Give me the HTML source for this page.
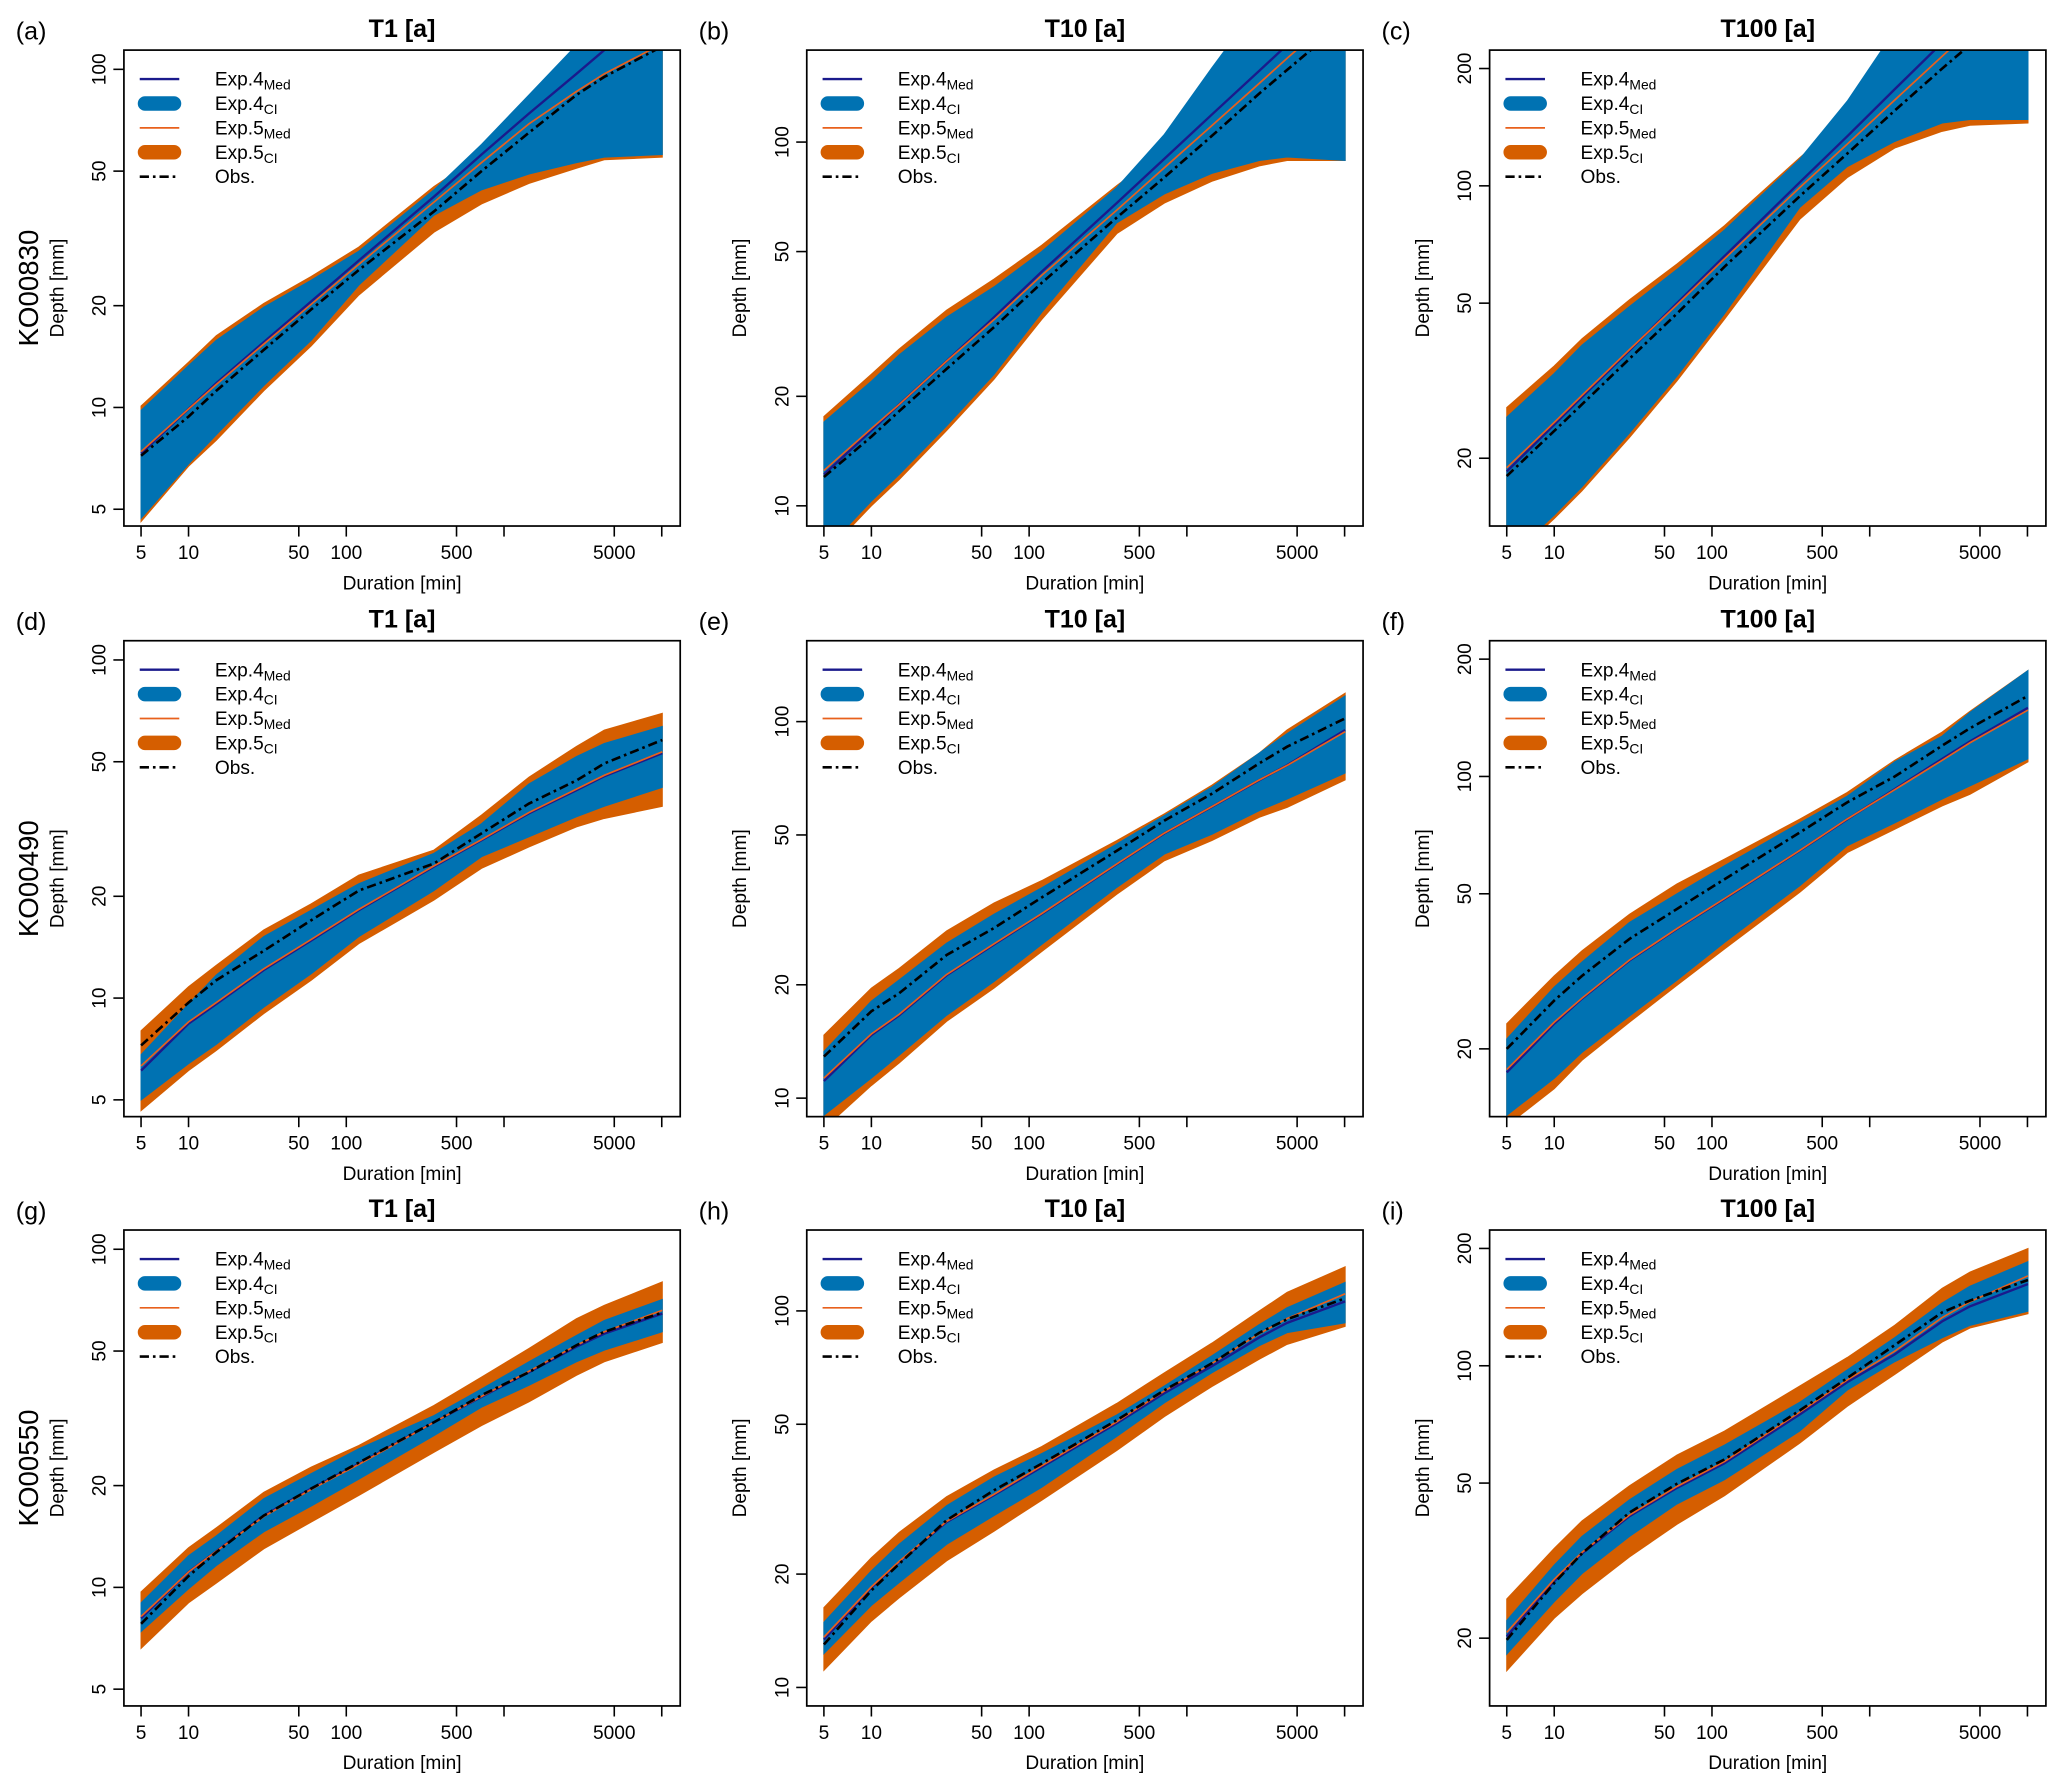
<!DOCTYPE html>
<html><head><meta charset="utf-8"><title>IDF curves</title>
<style>
html,body{margin:0;padding:0;background:#fff;}
svg{display:block;font-family:"Liberation Sans",Arial,sans-serif;}
</style></head>
<body>
<svg id="fig" width="2067" height="1789" viewBox="0 0 1568 1357" preserveAspectRatio="none" xmlns="http://www.w3.org/2000/svg"></svg>
<script>
// durations [min]
const durations=[5,10,15,30,60,120,360,720,1440,2880,4320,10080];
const xTicks=[5,10,50,100,500,1000,5000,10000];
const xTickLabels=["5","10","50","100","500","","5000",""];
const titles=["T1 [a]","T10 [a]","T100 [a]"];
const stations=["KO00830","KO00490","KO00550"];
const panelLetters=["(a)","(b)","(c)","(d)","(e)","(f)","(g)","(h)","(i)"];
const yTicksCol=[[5,10,20,50,100],[10,20,50,100],[20,50,100,200]];

// panel a
const a_med4=[7.3,9.9,11.8,15.6,20.6,27.2,42,56,74,97,114,140];
const a_med5=[7.4,9.9,11.7,15.4,20.2,26.5,40.5,53,69,86,97,119];
const a_obs=[7.2,9.4,11.2,14.8,19.5,25.5,38,50,65,84,95,117];
const a_ci4hi=[9.8,13.3,15.8,19.8,23.8,29,44,60,84,118,145,200];
const a_ci4lo=[4.7,6.8,8.3,11.6,15.8,23,37,44,49,53,55,56];
const a_ci5hi=[10.1,13.6,16.3,20.3,24.4,29.8,45,56,68,85,97,118];
const a_ci5lo=[4.6,6.7,8,11.2,15.2,21.5,33,40,46,51,54,55];
// panel b
const b_med4=[12.2,16.1,19,25,33,44,68,90,119,157,185,260];
const b_med5=[12.5,16.3,19,25,32.5,43,65,85,111,145,170,235];
const b_obs=[12,15.5,18.2,23.8,31,41,62,80,104,136,158,215];
const b_ci4hi=[17,22,26,33,40,50,75,105,160,240,300,400];
const b_ci4lo=[7.5,10.3,12.2,16.6,23,34,60,72,82,89,91,89];
const b_ci5hi=[17.6,23,27,34.5,42,52,76,95,120,150,170,230];
const b_ci5lo=[7.3,10,11.8,16.1,22.3,32.5,56,68,78,86,89,89];
// panel c
const c_med4=[18.5,24.4,28.7,37.8,50,66,102,134,177,233,276,385];
const c_med5=[18.9,24.7,29,38,49.5,65,99,128,166,215,250,340];
const c_obs=[18,23.5,27.5,36,47,62,94,121,156,200,230,310];
const c_ci4hi=[25.5,33,39,49,61,77,117,165,250,360,450,600];
const c_ci4lo=[11,14.3,16.9,23.2,32.5,47,88,112,130,145,148,148];
const c_ci5hi=[27,34.5,40.5,51,63,79,118,150,190,240,270,350];
const c_ci5lo=[10.8,14,16.5,22.6,31.6,45.5,82,105,125,138,143,145];
// panel d
const d_med4=[6.1,8.4,9.6,12.1,14.8,18.2,24.5,29.3,35.2,41.2,45.3,53];
const d_med5=[6.3,8.5,9.7,12.2,14.9,18.3,24.6,29.4,35.4,41.5,45.6,53.5];
const d_obs=[7.24,9.7,11.3,13.8,17,20.8,25,30.7,37.6,44,49.4,58];
const d_ci4hi=[6.8,9.6,11.7,15.2,18.2,21.8,26.8,32.8,43,51.8,56.6,63.6];
const d_ci4lo=[5.0,6.4,7.3,9.4,11.8,15.2,20.8,26.2,30,34.4,36.9,42];
const d_ci5hi=[8.0,10.8,12.5,15.9,19,23.1,27.4,34.8,45,55.5,62,69.5];
const d_ci5lo=[4.65,6.1,7,9,11.3,14.5,19.5,24.2,28,32.1,34,36.9];
// panel e
const e_med4=[11.1,14.7,16.6,21.2,25.6,30.8,41.8,50.5,59.4,69.9,76.6,95];
const e_med5=[11.3,14.8,16.7,21.3,25.7,30.9,41.9,50.6,59.5,70,76.5,94];
const e_obs=[12.9,17,19,24,28.3,34.1,45.4,54.6,64.3,77.5,85.8,102];
const e_ci4hi=[13.3,18.1,20.6,25.8,30.8,36.2,47.3,56.3,67,82.5,93,117];
const e_ci4lo=[9,11.3,13,16.6,20.4,25.6,36.3,44.5,50.2,58,62.3,73];
const e_ci5hi=[14.7,19.6,22.1,27.8,33,37.8,48.3,56.9,67.8,82.5,95,119];
const e_ci5lo=[8.3,10.8,12.4,16,19.6,24.5,34.8,42.7,48.3,55.7,59.2,70];
// panel f
const f_med4=[17.4,23.2,26.9,33.7,40.6,48.5,64.5,77.7,92.8,111,123,150];
const f_med5=[17.7,23.4,27,33.8,40.7,48.6,64.6,77.8,92.5,110,122,148];
const f_obs=[20,26.6,30.8,38.3,45.7,54.5,71.8,85.8,100,120,133,161];
const f_ci4hi=[21.2,28.8,33.4,42.2,50,59,76,89,109,127,146,187];
const f_ci4lo=[13.5,16.8,19.6,24.3,30,37.5,52.4,66.4,76,87.5,94.6,111];
const f_ci5hi=[23.2,30.8,35.7,44.3,53,61.4,77.7,91,110,130,147,187];
const f_ci5lo=[12.7,15.8,18.7,23.4,29.1,36.1,50.4,63.8,73.2,84,90,109];
// panel g
const g_med4=[8.1,11.1,12.8,16.3,19.6,23.2,30.8,36.6,43.3,51.5,56.3,64.5];
const g_med5=[8.2,11.1,12.8,16.2,19.5,23.1,30.8,36.7,43.6,52,57,66];
const g_obs=[7.8,10.8,12.7,16.3,19.6,23.4,30.8,37,43.3,52,57,65];
const g_ci4hi=[9.0,12.4,14.2,18.3,21.7,25.7,32.2,38.6,46.5,55.6,61.6,71];
const g_ci4lo=[7.4,9.9,11.6,14.6,17.4,20.9,28.1,34.1,39.6,46.5,50.3,57];
const g_ci5hi=[9.7,13.1,15,19.1,22.7,26.3,34.5,41.9,50.9,62.3,68.3,80];
const g_ci5lo=[6.6,9.0,10.3,13,15.6,18.7,25.1,30.1,35.4,42.4,46.5,53];
// panel h
const h_med4=[13.4,18.4,21.5,27.5,32.4,38.5,50.3,60.5,71.3,85,93,106];
const h_med5=[13.6,18.5,21.6,27.6,32.6,38.8,50.8,61.3,72.5,87,95.5,111];
const h_obs=[13,18.1,21.3,27.8,33.4,39.3,51.3,61.6,72.6,87.5,95,108];
const h_ci4hi=[14.9,20.4,24,30.4,36.2,41.8,52.9,63.2,76,92,102,119];
const h_ci4lo=[12.3,16.5,19,24,28.6,34,46.4,57,68.5,80.9,87.6,93];
const h_ci5hi=[16.3,22.1,25.8,32.1,37.8,43.6,56.8,68.5,82.1,100,112,131];
const h_ci5lo=[11.1,15,17.3,21.7,26,31.4,42.6,52.4,63,74.4,81.5,91];
// panel i
const i_med4=[20.2,28,33,41.1,48.6,56.2,75,90.8,107,130,142,162];
const i_med5=[20.7,28.3,33.2,41.4,49,56.8,76,92,109,133,146,170];
const i_obs=[19.8,27.7,33,42,49.8,57.5,76.8,93,113,137,147,166];
const i_ci4hi=[22.2,30.8,36.5,45.3,54.2,62.6,80.6,97.6,118,145,160,185];
const i_ci4lo=[18.2,24.8,29.3,36.5,44.2,51,68,86.6,102.4,118,127,138];
const i_ci5hi=[25.2,34,40,49.2,59,68,88.7,105,127,158,174,200];
const i_ci5lo=[16.5,22.5,26,32.3,39.2,46.4,63.3,78.7,95,115,125,136];

const panels=[
 {med4:a_med4,med5:a_med5,obs:a_obs,ci4hi:a_ci4hi,ci4lo:a_ci4lo,ci5hi:a_ci5hi,ci5lo:a_ci5lo,ylim:[4.46,114]},
 {med4:b_med4,med5:b_med5,obs:b_obs,ci4hi:b_ci4hi,ci4lo:b_ci4lo,ci5hi:b_ci5hi,ci5lo:b_ci5lo,ylim:[8.8,179]},
 {med4:c_med4,med5:c_med5,obs:c_obs,ci4hi:c_ci4hi,ci4lo:c_ci4lo,ci5hi:c_ci5hi,ci5lo:c_ci5lo,ylim:[13.4,223]},
 {med4:d_med4,med5:d_med5,obs:d_obs,ci4hi:d_ci4hi,ci4lo:d_ci4lo,ci5hi:d_ci5hi,ci5lo:d_ci5lo,ylim:[4.46,114]},
 {med4:e_med4,med5:e_med5,obs:e_obs,ci4hi:e_ci4hi,ci4lo:e_ci4lo,ci5hi:e_ci5hi,ci5lo:e_ci5lo,ylim:[8.93,164]},
 {med4:f_med4,med5:f_med5,obs:f_obs,ci4hi:f_ci4hi,ci4lo:f_ci4lo,ci5hi:f_ci5hi,ci5lo:f_ci5lo,ylim:[13.4,223]},
 {med4:g_med4,med5:g_med5,obs:g_obs,ci4hi:g_ci4hi,ci4lo:g_ci4lo,ci5hi:g_ci5hi,ci5lo:g_ci5lo,ylim:[4.46,114]},
 {med4:h_med4,med5:h_med5,obs:h_obs,ci4hi:h_ci4hi,ci4lo:h_ci4lo,ci5hi:h_ci5hi,ci5lo:h_ci5lo,ylim:[8.93,164]},
 {med4:i_med4,med5:i_med5,obs:i_obs,ci4hi:i_ci4hi,ci4lo:i_ci4lo,ci5hi:i_ci5hi,ci5lo:i_ci5lo,ylim:[13.4,223]}
];

const NS="http://www.w3.org/2000/svg";
const svg=document.getElementById('fig');
const colX=[94,612,1130], rowY=[38,486,933], BW=422, BH=361;
const C4="#0072B2", C5="#D55E00", NAVY="#1a1a8c", ORMED="#E8601C";
function mk(tag,attrs,parent){const e=document.createElementNS(NS,tag);for(const k in attrs)e.setAttribute(k,attrs[k]);(parent||svg).appendChild(e);return e;}
function txt(s,attrs,parent){const e=mk('text',attrs,parent);e.textContent=s;return e;}

panels.forEach((p,idx)=>{
  const r=Math.floor(idx/3), c=idx%3, x0=colX[c], y0=rowY[r];
  const g=mk('g',{});
  
  
  const xs=d=>x0+13+(Math.log10(d)-Math.log10(5))/(4-Math.log10(5))*395;
  const lo=Math.log10(p.ylim[0]), hi=Math.log10(p.ylim[1]);
  const ys=v=>y0+BH-(Math.log10(v)-lo)/(hi-lo)*BH;
  const cid='clip'+idx;
  const cp=mk('clipPath',{id:cid},g); mk('rect',{x:x0,y:y0,width:BW,height:BH},cp);
  const plot=mk('g',{'clip-path':'url(#'+cid+')'},g);
  
  
  function band(hiA,loA,col,name){
    let pts=durations.map((d,i)=>xs(d).toFixed(1)+','+ys(hiA[i]).toFixed(1));
    for(let i=durations.length-1;i>=0;i--)pts.push(xs(durations[i]).toFixed(1)+','+ys(loA[i]).toFixed(1));
    const e=mk('polygon',{points:pts.join(' '),fill:col,stroke:col,'stroke-width':0.8},plot);
    
    
  }
  function line(arr,col,w,dash,name){
    const pts=durations.map((d,i)=>xs(d).toFixed(1)+','+ys(arr[i]).toFixed(1)).join(' ');
    const a={points:pts,fill:'none',stroke:col,'stroke-width':w};
    if(dash)a['stroke-dasharray']=dash;
    const e=mk('polyline',a,plot);
    
    
  }
  band(p.ci5hi,p.ci5lo,C5,'exp5-ci-band');
  band(p.ci4hi,p.ci4lo,C4,'exp4-ci-band');
  line(p.med4,NAVY,1.8,null,'exp4-median-line');
  line(p.med5,ORMED,1.3,null,'exp5-median-line');
  line(p.obs,'#000',2,'7,3,2,3','observed-line');
  const box=mk('rect',{x:x0,y:y0,width:BW,height:BH,fill:'none',stroke:'#000','stroke-width':1.3},g);
  
  
  xTicks.forEach((t,i)=>{
    const X=xs(t);
    mk('line',{x1:X,y1:y0+BH,x2:X,y2:y0+BH+8,stroke:'#000','stroke-width':1.2},g);
    if(xTickLabels[i]){const e=txt(xTickLabels[i],{x:X,y:y0+BH+25,'font-size':14.5,'text-anchor':'middle'},g);
      
      }
  });
  const xt=txt('Duration [min]',{x:x0+BW/2,y:y0+BH+48,'font-size':14.5,'text-anchor':'middle'},g);
  
  
  yTicksCol[c].forEach(t=>{
    const Y=ys(t); if(Y<y0-1||Y>y0+BH+1)return;
    mk('line',{x1:x0,y1:Y,x2:x0-8,y2:Y,stroke:'#000','stroke-width':1.2},g);
    const e=txt(String(t),{x:x0-14,y:Y,'font-size':14.5,'text-anchor':'middle',transform:'rotate(-90 '+(x0-14)+' '+Y+')'},g);
    
    
  });
  const yc=y0+BH/2;
  const yt=txt('Depth [mm]',{x:x0-46,y:yc,'font-size':14.5,'text-anchor':'middle',transform:'rotate(-90 '+(x0-46)+' '+yc+')'},g);
  
  
  const tt=txt(titles[c],{x:x0+BW/2,y:y0-10,'font-size':19,'font-weight':'bold','text-anchor':'middle'},g);
  
  
  const pl=txt(panelLetters[idx],{x:x0-82,y:y0-8,'font-size':19},g);
  
  
  if(c===0){
    const st=txt(stations[r],{x:x0-65,y:yc,'font-size':21,'text-anchor':'middle',transform:'rotate(-90 '+(x0-65)+' '+yc+')'},g);
    
    
  }
  const lg=mk('g',{},g);
  
  
  const lx=x0+12, ly=y0+22, dy=18.5;
  const items=[["4","Med",NAVY,1.8,null],["4","CI",C4,11,null],["5","Med",ORMED,1.3,null],["5","CI",C5,11,null],["","",'#000',2,'7,3,2,3']];
  items.forEach((it,k)=>{
    const Y=ly+k*dy;
    const a={x1:lx+(it[3]>5?4:0),y1:Y,x2:lx+(it[3]>5?26:30),y2:Y,stroke:it[2],'stroke-width':it[3],'stroke-linecap':it[3]>5?'round':'butt'};
    if(it[4])a['stroke-dasharray']=it[4];
    const ln=mk('line',a,lg);
    
    
    const t=mk('text',{x:lx+57,y:Y+5,'font-size':14.5},lg);
    
    
    if(it[0]){t.appendChild(document.createTextNode('Exp.'+it[0]));
      const s=document.createElementNS(NS,'tspan');s.setAttribute('font-size','10.5');s.setAttribute('dy','3');s.textContent=it[1];t.appendChild(s);}
    else t.textContent='Obs.';
  });
});
</script>
</body></html>
